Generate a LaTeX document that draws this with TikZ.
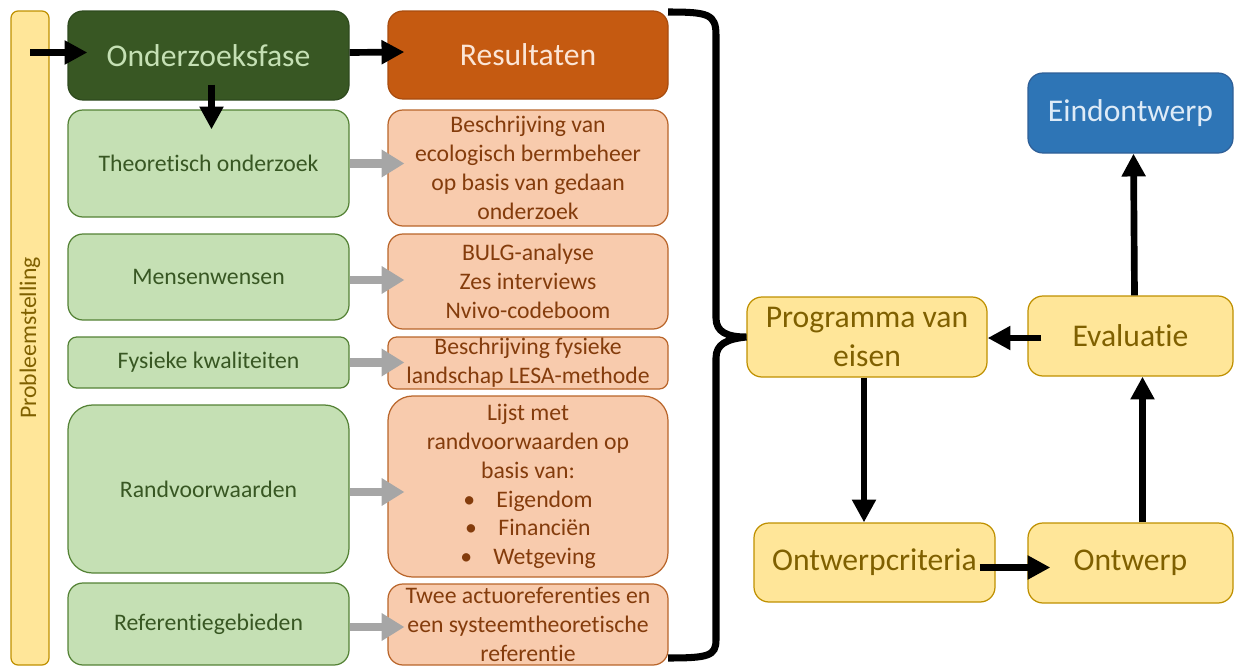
\documentclass[tikz,border=0pt]{standalone}
\usepackage{fontspec}
\setmainfont{Carlito}[RawFeature={-liga;-clig;-calt;-dlig}]
\usetikzlibrary{arrows.meta,calc}
\definecolor{dgfill}{HTML}{385723}
\definecolor{dgtext}{HTML}{C5E0B4}
\definecolor{dgdraw}{HTML}{2E4A1E}
\definecolor{lgfill}{HTML}{C5E0B4}
\definecolor{lgdraw}{HTML}{548235}
\definecolor{lgtext}{HTML}{385723}
\definecolor{dofill}{HTML}{C55A11}
\definecolor{dotext}{HTML}{FBE5D6}
\definecolor{dodraw}{HTML}{A84C0E}
\definecolor{lofill}{HTML}{F8CBAD}
\definecolor{lodraw}{HTML}{B9652A}
\definecolor{lotext}{HTML}{843C0C}
\definecolor{yfill}{HTML}{FFE699}
\definecolor{ydraw}{HTML}{BF9000}
\definecolor{ytext}{HTML}{7F6000}
\definecolor{bfill}{HTML}{2E75B6}
\definecolor{bdraw}{HTML}{2F5F97}
\definecolor{btext}{HTML}{DEEBF7}
\definecolor{grarrow}{HTML}{A6A6A6}
\begin{document}
\begin{tikzpicture}[x=0.02cm,y=-0.02cm,
  bx/.style args={#1/#2/#3/#4}{minimum width={(#3-#1)*0.02cm}, minimum height={(#4-#2)*0.02cm}, at={({(#1+#3)/2},{(#2+#4)/2})}},
  box/.style={draw, line width=0.7pt, inner sep=0pt, align=center, rounded corners=8.5pt},
  big/.style={font=\fontsize{18}{22}\selectfont},
  small/.style={font=\fontsize{13.5}{16.4}\selectfont},
  dgbox/.style={box, big, fill=dgfill, draw=dgdraw, text=dgtext},
  lgbox/.style={box, small, fill=lgfill, draw=lgdraw, text=lgtext},
  dobox/.style={box, big, fill=dofill, draw=dodraw, text=dotext},
  lobox/.style={box, small, fill=lofill, draw=lodraw, text=lotext},
  ybox/.style={box, big, fill=yfill, draw=ydraw, text=ytext},
  bbox/.style={box, big, fill=bfill, draw=bdraw, text=btext},
  blk/.style={line width=3.8pt, -{Triangle[length=13pt,width=13pt]}},
  gry/.style={draw=grarrow, line width=5pt, -{Triangle[length=13pt,width=15pt]}, grarrow},
  brace/.style={line width=4pt}
]
\useasboundingbox (0,0) rectangle (1235,666);

% left bar
\node[box, fill=yfill, draw=ydraw, rounded corners=4pt, bx=11/11/49/665] (prob) {};
\node[rotate=90, small, text=ytext] (probtxt) at (prob.center) {Probleemstelling};

% green column
\node[dgbox, bx=68/11/349/100] (onder) {Onderzoeksfase};
\node[lgbox, bx=68/110/349/217] (theo) {Theoretisch onderzoek};
\node[lgbox, bx=68/234/349/320] (mens) {Mensenwensen};
\node[lgbox, rounded corners=5pt, bx=68/337/349/388] (fys) {Fysieke kwaliteiten};
\node[lgbox, rounded corners=14pt, bx=68/405/349/573] (rand) {Randvoorwaarden};
\node[lgbox, bx=68/583/349/665] (ref) {Referentiegebieden};

% orange column
\node[dobox, bx=388/11/668/99] (res) {Resultaten};
\node[lobox, bx=388/110/668/226] (r1) {Beschrijving van\\ecologisch bermbeheer\\op basis van gedaan\\onderzoek};
\node[lobox, bx=388/234/668/329] (r2) {BULG-analyse\\Zes interviews\\Nvivo-codeboom};
\node[lobox, rounded corners=5pt, bx=388/337/668/389] (r3) {Beschrijving fysieke\\landschap LESA-methode};
\node[lobox, rounded corners=14pt, bx=388/396/668/577] (r4) {Lijst met\\randvoorwaarden op\\basis van:\\\textbullet\hspace{0.9em}Eigendom\\\textbullet\hspace{0.9em}Financiën\\\textbullet\hspace{0.9em}Wetgeving};
\node[lobox, bx=388/584/668/665] (r5) {Twee actuoreferenties en\\een systeemtheoretische\\referentie};

% right side
\node[ybox, bx=747/297/987/377] (prog) {Programma van\\eisen};
\node[ybox, bx=1028/296/1233/376] (eval) {Evaluatie};
\node[ybox, bx=754/523/995/602] (crit) {Ontwerpcriteria};
\node[ybox, bx=1028/523/1233/603] (ontw) {Ontwerp};
\node[bbox, bx=1028/73/1233/153] (eind) {Eindontwerp};

% black arrows left
\draw[blk] (prob.center |- onder.center) ++(0,-3) -- ($(onder.west)+(20,-3)$);
\draw[blk] ($(onder.east)+(0,-3)$) -- ($(res.west)+(17,-3)$);
\draw[blk] ($(onder.south)+(3,-16)$) -- ($(onder.south |- theo.north)+(3,20)$);

% gray arrows
\draw[gry] (theo.east) -- ($(theo.east -| r1.west)+(17,0)$);
\draw[gry] ($(mens.east)+(0,3)$) -- ($(mens.east -| r2.west)+(17,3)$);
\draw[gry] (fys.east) -- ($(fys.east -| r3.west)+(17,0)$);
\draw[gry] ($(rand.east)+(0,3)$) -- ($(rand.east -| r4.west)+(17,3)$);
\draw[gry] ($(ref.east)+(0,3)$) -- ($(ref.east -| r5.west)+(17,3)$);

% brace
\draw[brace] (668,12) .. controls (708,12) and (716,14) .. (716,35) -- (716,318)
  .. controls (716,332) and (727,337) .. (prog.west)
  .. controls (727,339) and (716,344) .. (716,358) -- (716,640)
  .. controls (716,656) and (708,658) .. (668,658);

% right arrows
\draw[blk] ($(eval.west)+(14,2)$) -- ($(eval.west -| prog.east)+(0,2)$);
\draw[blk] ($(prog.south)+(-3,0)$) -- ($(prog.south |- crit.north)+(-3,0)$);
\draw[blk] ($(crit.east)+(-16,5)$) -- ($(crit.east -| ontw.west)+(23,5)$);
\draw[blk] ($(ontw.north)+(12,0)$) -- ($(ontw.north |- eval.south)+(12,0)$);
\draw[blk] ($(eval.north)+(4,0)$) -- ($(eval.north |- eind.south)+(3,0)$);
\end{tikzpicture}
\end{document}
